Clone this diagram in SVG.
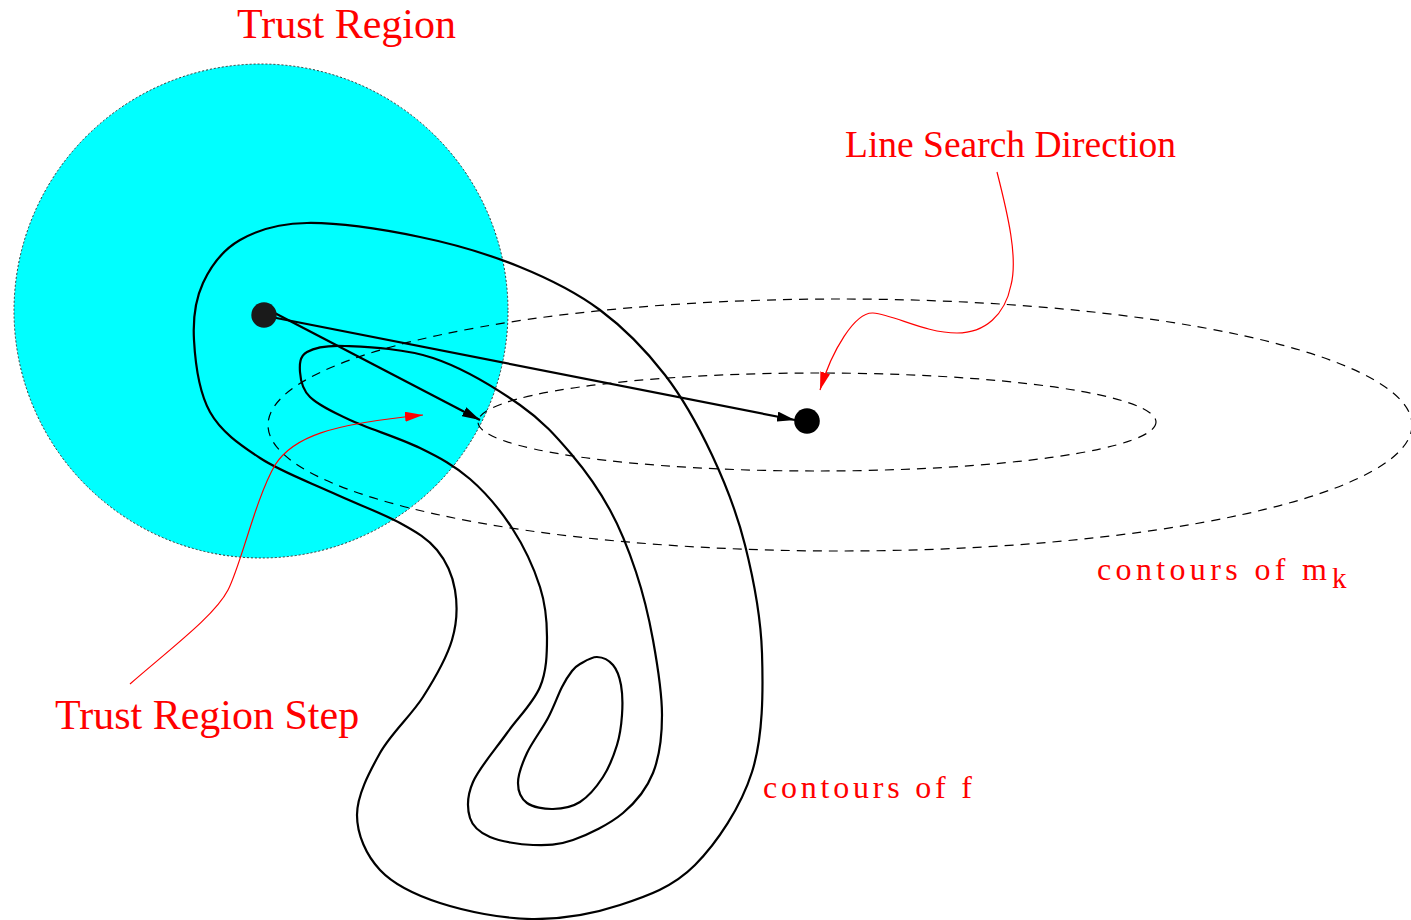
<svg xmlns="http://www.w3.org/2000/svg" width="1411" height="920" viewBox="0 0 1411 920">
<style>
.contour{fill:none;stroke:#000;stroke-width:2.2;stroke-linejoin:round}
.mk{fill:none;stroke:#000;stroke-width:1.2;stroke-dasharray:9 7}
.arrow{fill:none;stroke:#000;stroke-width:2.2}
.red{fill:none;stroke:#ff0000;stroke-width:1.2}
.lbl{fill:#ff0000;font-family:"Liberation Serif","Times New Roman",serif}
.tt{fill:#ff0000;font-family:"Liberation Serif","Times New Roman",serif}
</style>
<defs>
<marker id="ah" markerUnits="userSpaceOnUse" markerWidth="18" markerHeight="10" refX="18" refY="5" orient="auto">
<path d="M0,0 L18,5 L0,10 z" fill="#000"/>
</marker>
<marker id="ahr" markerUnits="userSpaceOnUse" markerWidth="18" markerHeight="10" refX="18" refY="5" orient="auto">
<path d="M0,0 L18,5 L0,10 z" fill="#ff0000"/>
</marker>
</defs>
<rect width="1411" height="920" fill="#fff"/>
<g id="trust-region">
<circle cx="261" cy="311" r="247" fill="#00ffff" stroke="#333" stroke-width="1" stroke-dasharray="2 2"/>
</g>
<g id="contours-mk">
<ellipse cx="840" cy="425" rx="572" ry="126" class="mk"/>
<ellipse cx="817" cy="422" rx="339" ry="49" class="mk"/>
</g>
<g id="contours-f">
<path class="contour" d="M 307 223 C 337 222.5, 384.5 229.7, 420 237 C 455.5 244.3, 490 254.8, 520 267 C 550 279.2, 575.8 292, 600 310 C 624.2 328, 646.3 350.8, 665 375 C 683.7 399.2, 698.7 426.7, 712 455 C 725.3 483.3, 736.7 512, 745 545 C 753.3 578, 760.8 615.2, 762 653 C 763.2 690.8, 763.2 736.7, 752 772 C 740.8 807.3, 717 842.8, 695 865 C 673 887.2, 647.2 896, 620 905 C 592.8 914, 562 919.3, 532 919 C 502 918.7, 465.3 911.2, 440 903 C 414.7 894.8, 393.8 884.7, 380 870 C 366.2 855.3, 357 834.5, 357 815 C 357 795.5, 369 772.7, 380 753 C 391 733.3, 411 715.8, 423 697 C 435 678.2, 446.7 657.8, 452 640 C 457.3 622.2, 457.5 605, 455 590 C 452.5 575, 446.2 561.2, 437 550 C 427.8 538.8, 417.3 532.5, 400 523 C 382.7 513.5, 356.3 503.8, 333 493 C 309.7 482.2, 280.5 471.5, 260 458 C 239.5 444.5, 221 431.7, 210 412 C 199 392.3, 195.2 361.5, 194 340 C 192.8 318.5, 195.3 299.7, 203 283 C 210.7 266.3, 222.7 250, 240 240 C 257.3 230, 277 223.5, 307 223 Z"/>
<path class="contour" d="M 307 352 C 314.5 347.7, 324 345, 345 346 C 366 347, 403.8 348.2, 433 358 C 462.2 367.8, 496.8 388.8, 520 405 C 543.2 421.2, 557 437.5, 572 455 C 587 472.5, 599.3 490.5, 610 510 C 620.7 529.5, 628.8 550.3, 636 572 C 643.2 593.7, 648.7 616.2, 653 640 C 657.3 663.8, 662 692.8, 662 715 C 662 737.2, 659.5 756.7, 653 773 C 646.5 789.3, 636.3 801.8, 623 813 C 609.7 824.2, 588 834.7, 573 840 C 558 845.3, 546.8 845.5, 533 845 C 519.2 844.5, 500.5 841.5, 490 837 C 479.5 832.5, 472.8 827.2, 470 818 C 467.2 808.8, 466.8 796.2, 473 782 C 479.2 767.8, 495.8 748.8, 507 733 C 518.2 717.2, 533.3 703, 540 687 C 546.7 671, 547 653.7, 547 637 C 547 620.3, 545.8 605.2, 540 587 C 534.2 568.8, 523.7 546, 512 528 C 500.3 510, 485.3 492.3, 470 479 C 454.7 465.7, 440 457.8, 420 448 C 400 438.2, 368.3 428.5, 350 420 C 331.7 411.5, 318.3 405, 310 397 C 301.7 389, 300.5 379.5, 300 372 C 299.5 364.5, 299.5 356.3, 307 352 Z"/>
<path class="contour" d="M 597 657 C 602.5 657.2, 609 660.3, 613 665 C 617 669.7, 619.5 676.7, 621 685 C 622.5 693.3, 622.7 705, 622 715 C 621.3 725, 620.2 734.7, 617 745 C 613.8 755.3, 609.2 767.5, 603 777 C 596.8 786.5, 588.3 796.7, 580 802 C 571.7 807.3, 561.8 808.8, 553 809 C 544.2 809.2, 532.8 807.3, 527 803 C 521.2 798.7, 518 791.3, 518 783 C 518 774.7, 522 763.8, 527 753 C 532 742.2, 542.2 729, 548 718 C 553.8 707, 558 694.8, 562 687 C 566 679.2, 569 674.8, 572 671 C 575 667.2, 575.8 666.3, 580 664 C 584.2 661.7, 591.5 656.8, 597 657 Z"/>
</g>
<g id="connectors">
<path class="arrow" d="M 267 309 L 480 420" marker-end="url(#ah)"/>
<path class="arrow" d="M 261 315 L 795 420" marker-end="url(#ah)"/>
<path class="red" d="M 997 172 C 1008 215, 1018 258, 1011 285 C 1005 315, 985 333, 957 333 C 925 333, 895 315, 873 313 C 855 312, 832 350, 820 390" marker-end="url(#ahr)"/>
<path class="red" d="M 130 684 C 175 645, 215 615, 228 590 C 241 565, 255 500, 275 465 C 293 437, 330 424, 423 415" marker-end="url(#ahr)"/>
</g>
<g id="start-point">
<circle cx="264" cy="315" r="12.7" fill="#1a1a1a"/>
</g>
<g id="end-point">
<circle cx="807" cy="421" r="12.8" fill="#000"/>
</g>
<g id="label-trust-region">
<text class="tt" x="237" y="38" font-size="42">Trust Region</text>
</g>
<g id="label-line-search">
<text class="tt" x="845" y="157" font-size="37.5">Line Search Direction</text>
</g>
<g id="label-trust-step">
<text class="tt" x="55" y="729" font-size="42">Trust Region Step</text>
</g>
<g id="label-contours-mk">
<text class="lbl" x="1097" y="580" font-size="32" textLength="230" lengthAdjust="spacing">contours of m</text>
<text class="lbl" x="1332" y="588" font-size="29">k</text>
</g>
<g id="label-contours-f">
<text class="lbl" x="763" y="798" font-size="32" textLength="209" lengthAdjust="spacing">contours of f</text>
</g>
</svg>
